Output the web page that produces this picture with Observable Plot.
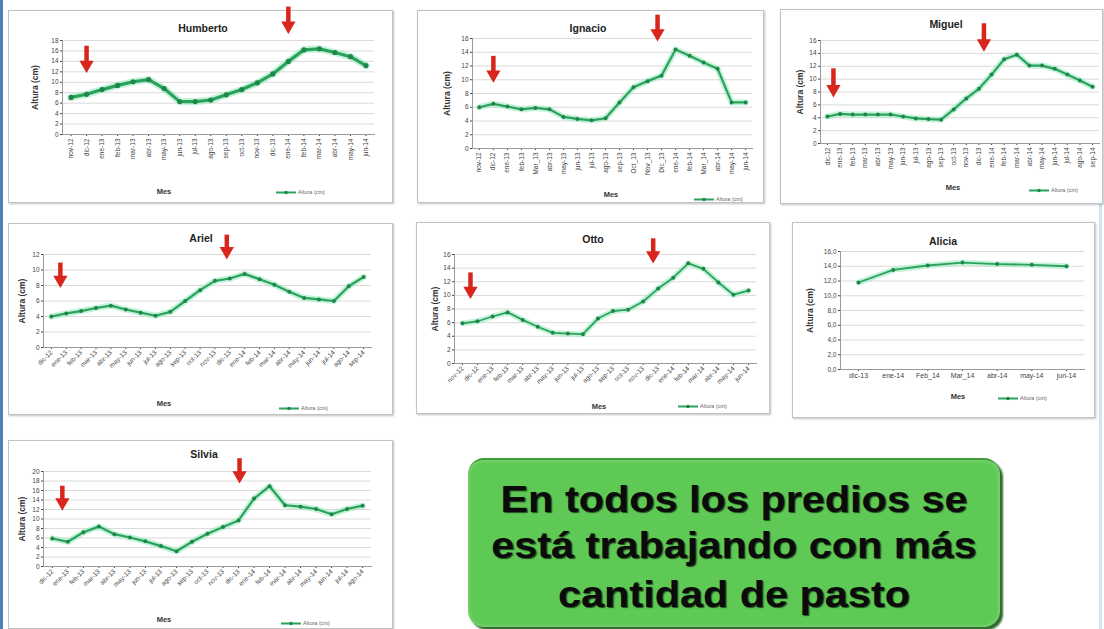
<!DOCTYPE html>
<html><head><meta charset="utf-8">
<script src="https://cdn.jsdelivr.net/npm/d3@7"></script>
<script src="https://cdn.jsdelivr.net/npm/@observablehq/plot@0.6"></script>
<style>
body{margin:0;background:#fff;}
#page{position:relative;width:1104px;height:629px;overflow:hidden;background:#fff;font-family:"Liberation Sans",Arial,sans-serif;}
#edgeL{position:absolute;left:0;top:0;width:3px;height:629px;background:#4f7fb8;}
#edgeR{position:absolute;left:1099px;top:200px;width:3px;height:429px;background:#cfe6f7;}
.panel{position:absolute;background:#fff;border:1px solid #c2c2c2;box-shadow:1px 1px 2px rgba(0,0,0,.25);box-sizing:border-box;}
.panel svg{position:absolute;left:0;top:0;overflow:visible;}
.ttl{position:absolute;transform:translate(-50%,-50%);font-weight:bold;font-size:10.5px;color:#222;white-space:nowrap;}
.mes{position:absolute;transform:translate(-50%,-50%);font-weight:bold;font-size:7.5px;color:#333;}
.leg{position:absolute;display:flex;align-items:center;gap:2px;font-size:5.5px;color:#666;transform:translateY(-50%);white-space:nowrap;}
#msg{position:absolute;left:468px;top:458px;width:532px;height:169px;background:#5fc955;border-radius:16px;border-top:2px solid #3f9a3a;box-shadow:3px 3px 2px #2f6b2c, inset 0 0 4px rgba(255,255,255,.35);box-sizing:border-box;}
#msg .ln{position:absolute;left:0;width:100%;text-align:center;font-weight:bold;font-size:36px;line-height:36px;color:#0b0b0b;transform:scaleX(1.15);text-shadow:1px 1px 1px #1f4a1f;white-space:nowrap;}
</style></head>
<body><div id="page"><div id="edgeL"></div><div id="edgeR"></div></div>
<script>
// ---------- data ----------
const mesesHumberto = ["nov-12","dic-12","ene-13","feb-13","mar-13","abr-13","may-13","jun-13","jul-13","ago-13","sep-13","oct-13","nov-13","dic-13","ene-14","feb-14","mar-14","abr-14","may-14","jun-14"];
const alturaHumberto = [7.1,7.7,8.6,9.4,10.1,10.5,8.8,6.3,6.3,6.6,7.6,8.6,9.9,11.6,14.0,16.2,16.4,15.7,14.9,13.2];
const flechasHumberto = ["dic-12","ene-14"];

const mesesIgnacio = ["nov-12","dic-12","ene-13","feb-13","Mar_13","abr-13","may-13","jun-13","jul-13","ago-13","sep-13","Oct_13","Nov_13","Dic_13","ene-14","feb-14","Mar_14","abr-14","may-14","jun-14"];
const alturaIgnacio = [6.0,6.5,6.1,5.7,5.9,5.7,4.6,4.3,4.1,4.4,6.7,8.9,9.8,10.6,14.4,13.5,12.5,11.6,6.7,6.7];
const flechasIgnacio = ["dic-12","Dic_13"];

const mesesMiguel = ["dic-12","ene-13","feb-13","mar-13","abr-13","may-13","jun-13","jul-13","ago-13","sep-13","oct-13","nov-13","dic-13","ene-14","feb-14","mar-14","abr-14","may-14","jun-14","jul-14","ago-14","sep-14"];
const alturaMiguel = [4.2,4.6,4.5,4.5,4.5,4.5,4.2,3.9,3.8,3.7,5.3,7.0,8.5,10.7,13.1,13.8,12.1,12.1,11.6,10.7,9.8,8.8];
const flechasMiguel = ["dic-12","dic-13"];

const mesesAriel = ["dic-12","ene-13","feb-13","mar-13","abr-13","may-13","jun-13","jul-13","ago-13","sep-13","oct-13","nov-13","dic-13","ene-14","feb-14","mar-14","abr-14","may-14","jun-14","jul-14","ago-14","sep-14"];
const alturaAriel = [4.0,4.4,4.7,5.1,5.4,4.9,4.5,4.1,4.6,6.0,7.4,8.6,8.9,9.5,8.8,8.1,7.2,6.4,6.2,6.0,7.9,9.1];
const flechasAriel = ["dic-12","dic-13"];

const mesesOtto = ["nov-12","dic-12","ene-13","feb-13","mar-13","abr-13","may-13","jun-13","jul-13","ago-13","sep-13","oct-13","nov-13","dic-13","ene-14","feb-14","mar-14","abr-14","may-14","jun-14"];
const alturaOtto = [5.9,6.2,6.9,7.5,6.4,5.4,4.5,4.4,4.3,6.6,7.7,7.9,9.1,11.0,12.6,14.7,13.9,11.9,10.1,10.7];
const flechasOtto = ["nov-12","dic-13"];

const mesesAlicia = ["dic-13","ene-14","Feb_14","Mar_14","abr-14","may-14","jun-14"];
const alturaAlicia = [11.8,13.5,14.1,14.5,14.3,14.2,14.0];
const flechasAlicia = [];

const mesesSilvia = ["dic-12","ene-13","feb-13","mar-13","abr-13","may-13","jun-13","jul-13","ago-13","sep-13","oct-13","nov-13","dic-13","ene-14","feb-14","mar-14","abr-14","may-14","jun-14","jul-14","ago-14"];
const alturaSilvia = [5.9,5.2,7.2,8.4,6.8,6.1,5.3,4.3,3.2,5.2,6.9,8.3,9.7,14.3,16.9,12.9,12.6,12.1,11.0,12.1,12.8];
const flechasSilvia = ["dic-12","dic-13"];

const mensaje = ["En todos los predios se","está trabajando con más","cantidad de pasto"];

// ---------- layout ----------
const panels = [
  {name:"Humberto", meses:mesesHumberto, valores:alturaHumberto, flechas:flechasHumberto,
   box:[8,10,385,193], m:[29,18,68,53], ymax:18, paso:2, pad:0.55, rot:-90,
   ttl:[194,17], mes:[155,180], leg:[267,181], ylab:31, fy:[[16.9,11.8],[24.4,19.3]], fdx:[0,0], lw:3.2, r:2.6},
  {name:"Ignacio", meses:mesesIgnacio, valores:alturaIgnacio, flechas:flechasIgnacio,
   box:[417,10,347,193], m:[27,11,54,54], ymax:16, paso:2, pad:0.49, rot:-90,
   ttl:[170,17], mes:[193,183], leg:[276,188], ylab:29, fy:[[13.4,9.6],[19.4,15.6]], fdx:[0,-4], lw:2.2, r:2},
  {name:"Miguel", meses:mesesMiguel, valores:alturaMiguel, flechas:flechasMiguel,
   box:[780,9,323,195], m:[30,3,60,39], ymax:16, paso:2, pad:0.55, rot:-90,
   ttl:[165,14], mes:[172,177], leg:[248,180], ylab:24, fy:[[11.6,7.2],[18.6,14.3]], fdx:[6,5], lw:2.2, r:2},
  {name:"Ariel", meses:mesesAriel, valores:alturaAriel, flechas:flechasAriel,
   box:[8,223,385,192], m:[30,21,67,34], ymax:12, paso:2, pad:0.53, rot:-45,
   ttl:[192,14], mes:[155,179], leg:[270,184], ylab:25, fy:[[10.9,7.7],[14.5,11.4]], fdx:[9,-3], lw:2.2, r:2},
  {name:"Otto", meses:mesesOtto, valores:alturaOtto, flechas:flechasOtto,
   box:[416,222,354,192], m:[31,13,50,37], ymax:16, paso:2, pad:0.53, rot:-45,
   ttl:[176,16], mes:[182,183], leg:[261,183], ylab:23, fy:[[13.3,9.5],[18.3,14.7]], fdx:[8,-5], lw:1.8, r:2},
  {name:"Alicia", meses:mesesAlicia, valores:alturaAlicia, flechas:flechasAlicia,
   box:[792,222,303,196], m:[28,10,48,47], ymax:16, paso:2, pad:0.52, rot:0, dec:true,
   ttl:[150,18], mes:[165,173], leg:[205,175], ylab:34, fy:[], fdx:[], lw:1.8, r:2},
  {name:"Silvia", meses:mesesSilvia, valores:alturaSilvia, flechas:flechasSilvia,
   box:[8,440,385,189], m:[30,21,62,34], ymax:20, paso:2, pad:0.57, rot:-45,
   ttl:[195,13], mes:[155,178], leg:[272,182], ylab:25, fy:[[16.9,11.8],[22.7,17.5]], fdx:[10,1], lw:2.2, r:2}
];

const page = document.getElementById("page");
const LINE = "#2aa25e", HALO = "#9eeac0", DOT = "#1d8748", RED = "#d8261c";

for (const cfg of panels) {
  const [L,T,W,H] = cfg.box;
  const div = document.createElement("div");
  div.className = "panel";
  Object.assign(div.style, {left:L+"px", top:T+"px", width:W+"px", height:H+"px"});
  page.appendChild(div);

  const data = cfg.meses.map((mes,i)=>({mes, altura:cfg.valores[i]}));
  const ticks = d3.range(0, cfg.ymax + 0.001, cfg.paso);
  const fmt = cfg.dec ? (d => d.toFixed(1).replace(".", ",")) : (d => String(d));
  const arrows = cfg.flechas.map((mes,i)=>({mes, y1:cfg.fy[i][0], y2:cfg.fy[i][1], dx:cfg.fdx[i]}));

  const marks = [
    Plot.gridY(ticks, {stroke:"#dadada", strokeOpacity:1}),
    Plot.axisY(ticks, {tickSize:2, tickPadding:2, tickFormat:fmt, fontSize:6.5, color:"#444", label:null}),
    Plot.axisY({ticks:[], tickSize:0, fontSize:8.5, fontWeight:"bold", color:"#333",
      label:"Altura (cm)", labelAnchor:"center", labelArrow:"none", labelOffset:cfg.ylab}),
    Plot.axisX({tickSize:2, tickPadding:2, tickRotate:cfg.rot, fontSize:cfg.rot===0?7:6.5, color:"#444", label:null}),
    Plot.frame({anchor:"left", stroke:"#9a9a9a"}),
    Plot.frame({anchor:"bottom", stroke:"#9a9a9a"}),
    Plot.line(data, {x:"mes", y:"altura", stroke:HALO, strokeWidth:cfg.lw+4, strokeOpacity:0.6}),
    Plot.line(data, {x:"mes", y:"altura", stroke:LINE, strokeWidth:cfg.lw}),
    Plot.dot(data, {x:"mes", y:"altura", r:cfg.r, fill:DOT, stroke:"none"}),
    ...arrows.flatMap(a => [
      Plot.ruleX([a], {x:"mes", y1:"y1", y2:"y2", dx:a.dx, stroke:RED, strokeWidth:4.5, insetBottom:7}),
      Plot.dot([a], {x:"mes", y:"y2", dx:a.dx, dy:-8, symbol:"triangle", rotate:180, r:5.3, fill:RED, stroke:"none"})
    ])
  ];

  const svg = Plot.plot({
    width:W-2, height:H-2,
    marginTop:cfg.m[0], marginRight:cfg.m[1], marginBottom:cfg.m[2], marginLeft:cfg.m[3],
    style:{fontFamily:"'Liberation Sans', Arial, sans-serif", fontSize:"6px", background:"transparent", overflow:"visible", color:"#555"},
    x:{type:"point", domain:cfg.meses, padding:cfg.pad, round:false},
    y:{domain:[0,cfg.ymax]},
    marks
  });
  div.appendChild(svg);

  const t = document.createElement("div");
  t.className = "ttl"; t.textContent = cfg.name;
  Object.assign(t.style, {left:cfg.ttl[0]+"px", top:cfg.ttl[1]+"px"});
  div.appendChild(t);

  const ms = document.createElement("div");
  ms.className = "mes"; ms.textContent = "Mes";
  Object.assign(ms.style, {left:cfg.mes[0]+"px", top:cfg.mes[1]+"px"});
  div.appendChild(ms);

  const lg = document.createElement("div");
  lg.className = "leg";
  Object.assign(lg.style, {left:cfg.leg[0]+"px", top:cfg.leg[1]+"px"});
  lg.innerHTML = `<svg width="20" height="5" style="position:static"><line x1="0" y1="2.5" x2="20" y2="2.5" stroke="${LINE}" stroke-width="2"/><circle cx="10" cy="2.5" r="1.8" fill="${DOT}"/></svg><span>Altura (cm)</span>`;
  div.appendChild(lg);
}

const box = document.createElement("div");
box.id = "msg";
const tops = [22, 68, 117];
mensaje.forEach((s,i)=>{
  const ln = document.createElement("div");
  ln.className = "ln"; ln.textContent = s; ln.style.top = tops[i]+"px";
  box.appendChild(ln);
});
page.appendChild(box);
</script>
</body></html>
